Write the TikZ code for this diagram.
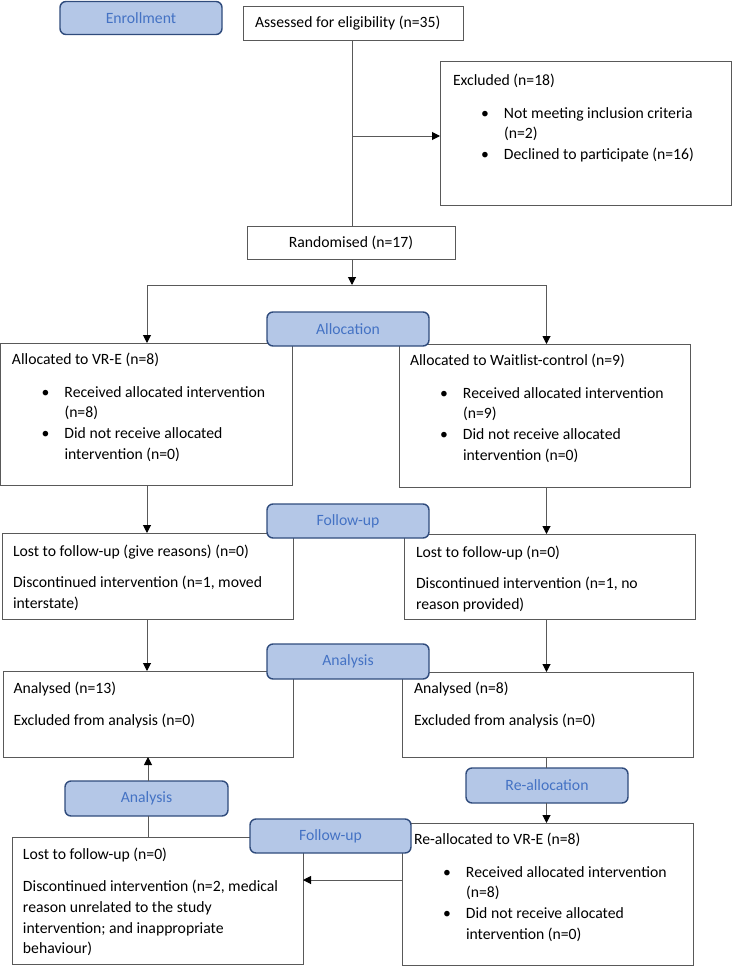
\documentclass[tikz,border=0pt]{standalone}
\usepackage{fontspec}
\setmainfont{Carlito}
\usetikzlibrary{arrows.meta}
\definecolor{lblfill}{HTML}{B4C7E7}
\definecolor{lbldraw}{HTML}{2F4B7C}
\definecolor{lbltext}{HTML}{4472C4}
\definecolor{boxline}{HTML}{595959}
\newcommand{\mainfs}{\fontsize{15.7pt}{20.7pt}\selectfont}
% #1 width, #2 height, #3 first baseline, #4 left pad, #5 content
\newcommand{\btxt}[5]{\parbox[t][#2][t]{#1}{\raggedright\leftskip=#4\relax\rule{0pt}{#3}\ignorespaces#5}}
\newcommand{\bitem}[1]{\par\leftskip=64pt\relax\noindent\llap{\makebox[23pt][l]{•}}#1}
\newcommand{\gapp}[1][12.5pt]{\par\vspace{#1}}
\begin{document}
\begin{tikzpicture}[x=1pt,y=-1pt,
  box/.style={draw=boxline, line width=1pt, fill=white, inner sep=0pt, outer sep=0pt, anchor=north west, font=\mainfs},
  stage/.style={draw=lbldraw, line width=1.4pt, fill=lblfill, rounded corners=6pt, text=lbltext, inner sep=0pt, outer sep=0pt, anchor=north west, font=\mainfs, minimum height=34pt, minimum width=162pt},
  conn/.style={draw=boxline, line width=1pt},
  arr/.style={conn, -{Triangle[length=8pt, width=8pt, color=black]}}]
\useasboundingbox (0,0) rectangle (732,966);
% boxes
\node[box] (assess) at (243,7) {\btxt{220pt}{34pt}{21pt}{12pt}{Assessed for eligibility (n=35)}};
\node[box] (excl) at (440,62) {\btxt{291pt}{143pt}{23pt}{13pt}{Excluded (n=18)\gapp\bitem{Not meeting inclusion criteria\\(n=2)}\bitem{Declined to participate (n=16)}}};
\node[box, minimum width=208pt, minimum height=33pt] (rand) at (247,226) {Randomised (n=17)};
\node[box] (vre) at (0.5,343) {\btxt{291.5pt}{142pt}{21pt}{11.5pt}{Allocated to VR-E (n=8)\gapp\bitem{Received allocated intervention\\(n=8)}\bitem{Did not receive allocated\\intervention (n=0)}}};
\node[box] (wait) at (399,344) {\btxt{291pt}{143pt}{21pt}{11pt}{Allocated to Waitlist-control (n=9)\gapp\bitem{Received allocated intervention\\(n=9)}\bitem{Did not receive allocated\\intervention (n=0)}}};
\node[box] (fupl) at (2,533) {\btxt{291pt}{86pt}{23.5pt}{11pt}{Lost to follow-up (give reasons) (n=0)\gapp[10.5pt]Discontinued intervention (n=1, moved\\interstate)}};
\node[box] (fupr) at (404,534) {\btxt{291pt}{85pt}{23.5pt}{12pt}{Lost to follow-up (n=0)\gapp[10.5pt]Discontinued intervention (n=1, no\\reason provided)}};
\node[box] (anl) at (3,671) {\btxt{290pt}{86pt}{22pt}{10.5pt}{Analysed (n=13)\gapp[11.5pt]Excluded from analysis (n=0)}};
\node[box] (anr) at (402,672) {\btxt{291pt}{85pt}{21pt}{12pt}{Analysed (n=8)\gapp[11.5pt]Excluded from analysis (n=0)}};
\node[box] (rvre) at (402,823) {\btxt{291pt}{142pt}{21pt}{12pt}{Re-allocated to VR-E (n=8)\gapp\bitem{Received allocated intervention\\(n=8)}\bitem{Did not receive allocated\\intervention (n=0)}}};
\node[box] (bl) at (12,837) {\btxt{291pt}{127pt}{22pt}{11pt}{Lost to follow-up (n=0)\gapp[12pt]Discontinued intervention (n=2, medical\\reason unrelated to the study\\intervention; and inappropriate\\behaviour)}};
% stage labels
\node[stage, minimum height=33pt] (senr) at (60,1.5) {Enrollment};
\node[stage] (salloc) at (267,312) {Allocation};
\node[stage] (sfu1) at (267,504) {Follow-up};
\node[stage, minimum height=35pt] (san1) at (267,644) {Analysis};
\node[stage, minimum height=35pt, minimum width=163pt] (san2) at (65,781) {Analysis};
\node[stage, minimum height=35pt] (sreall) at (466,768) {Re-allocation};
\node[stage, minimum width=161pt] (sfu2) at (250,819) {Follow-up};
% connectors
\coordinate (lc) at (147,0);
\coordinate (rc) at (546.5,0);
\coordinate (ej) at (352,136);
\coordinate (split) at (352,285);
\coordinate (lc2) at (148,0);
\coordinate (bj) at (0,880);
\draw[conn] (assess.south -| ej) -- (rand.north -| ej);
\draw[arr] (ej) -- (excl.west |- ej);
\draw[arr] (rand.south -| split) -- (split);
\draw[conn] (split -| lc) -- (split -| rc);
\draw[arr] (split -| lc) -- (vre.north -| lc);
\draw[arr] (split -| rc) -- (wait.north -| rc);
\draw[arr] (vre.south -| lc) -- (fupl.north -| lc);
\draw[arr] (wait.south -| rc) -- (fupr.north -| rc);
\draw[arr] (fupl.south -| lc) -- (anl.north -| lc);
\draw[arr] (fupr.south -| rc) -- (anr.north -| rc);
\draw[conn] (anr.south -| rc) -- (sreall.north -| rc);
\draw[arr] (sreall.south -| rc) -- (rvre.north -| rc);
\draw[conn] (bl.north -| lc2) -- (san2.south -| lc2);
\draw[arr] (san2.north -| lc2) -- (anl.south -| lc2);
\draw[arr] (rvre.west |- bj) -- (bl.east |- bj);
\end{tikzpicture}
\end{document}
